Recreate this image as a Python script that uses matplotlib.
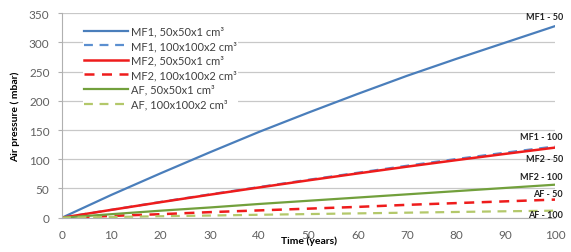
import matplotlib
matplotlib.use("Agg")
import matplotlib.pyplot as plt

plt.rcParams['font.family'] = ['Lato', 'DejaVu Sans']

# data
years = [0, 10, 20, 30, 40, 50, 60, 70, 80, 90, 100]
mf1_50 = [0, 39, 76, 112, 147, 180, 212, 243, 272, 300, 328]
mf1_100 = [0, 13.5, 27, 40, 52.5, 65, 77, 89, 100.5, 111.5, 122]
mf2_50 = [0, 13.4, 26.6, 39.4, 51.8, 64, 75.8, 87.4, 98.6, 109.4, 120]
mf2_100 = [0, 3, 6, 9.5, 12.5, 15.5, 18.5, 22, 25, 28, 31]
af_50 = [0, 6, 12, 17.5, 23.5, 29, 34.5, 40, 45.5, 51, 56.5]
af_100 = [0, 1.2, 2.5, 3.7, 5, 6.2, 7.4, 8.6, 9.8, 11, 12]

legend_labels = ["MF1, 50x50x1 cm³", "MF1, 100x100x2 cm³",
                 "MF2, 50x50x1 cm³", "MF2, 100x100x2 cm³",
                 "AF, 50x50x1 cm³", "AF, 100x100x2 cm³"]
end_labels = ["MF1 - 50", "MF1 - 100", "MF2 - 50", "MF2 - 100", "AF - 50", "AF - 100"]
end_label_y = [344, 139, 102, 71, 40.6, 6.3]

fig = plt.figure(figsize=(5.71, 2.53), dpi=100)
ax = fig.add_axes([0.1086, 0.1356, 0.8634, 0.808])

dash = (0, (4, 3))
ax.plot(years, mf1_50, color='#4a7ebb', lw=1.6, label=legend_labels[0])
ax.plot(years, mf1_100, color='#5b8fd0', lw=1.6, ls=dash, label=legend_labels[1])
ax.plot(years, mf2_50, color='#ee1c1c', lw=1.8, label=legend_labels[2])
ax.plot(years, mf2_100, color='#ee1c1c', lw=1.8, ls=dash, label=legend_labels[3])
ax.plot(years, af_50, color='#72a03c', lw=1.6, label=legend_labels[4])
ax.plot(years, af_100, color='#b3c86a', lw=1.6, ls=dash, label=legend_labels[5])

for txt, yv in zip(end_labels, end_label_y):
    ax.text(101.6, yv, txt, ha='right', va='center', fontsize=6.5,
            fontweight='bold', color='#222222')

ax.set_xlim(0, 100)
ax.set_ylim(0, 350)
ax.set_xticks(range(0, 101, 10))
ax.set_yticks(range(0, 351, 50))
ax.grid(axis='y', color='#c8c8c8', lw=0.9)
ax.set_axisbelow(True)
for s in ['top', 'right']:
    ax.spines[s].set_visible(False)
ax.spines['left'].set_color('#b0b0b0')
ax.spines['bottom'].set_color('#b0b0b0')
ax.tick_params(axis='x', length=0, pad=8, labelsize=8.5, labelcolor='#606060')
ax.tick_params(axis='y', length=3, color='#b0b0b0', pad=6, labelsize=8.5, labelcolor='#606060')

ax.set_ylabel("Air pressure ( mbar)", fontsize=7.5, fontweight='bold', labelpad=6)
ax.set_xlabel("Time (years)", fontsize=7.5, fontweight='bold', labelpad=-3)

leg = ax.legend(loc='upper left', bbox_to_anchor=(0.042, 0.945), fontsize=8,
                frameon=True, framealpha=1, edgecolor='none', handlelength=4.0,
                handletextpad=0.25, labelspacing=0.32, borderaxespad=0,
                borderpad=0.1)
leg.get_frame().set_linewidth(0)
for t in leg.get_texts():
    t.set_color('#404040')

fig.savefig("out.png", dpi=100)
